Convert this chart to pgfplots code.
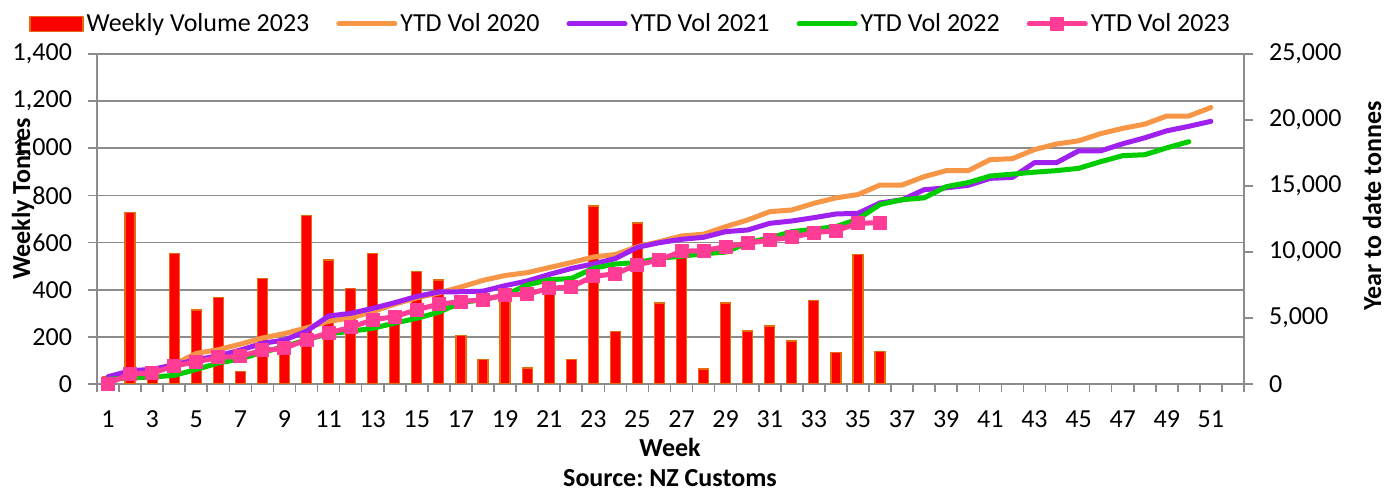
\documentclass[border=0pt]{standalone}
\usepackage{fontspec}
\setmainfont{Carlito}
\usepackage{pgfplots}
\pgfplotsset{compat=1.18}
\definecolor{barred}{RGB}{255,0,0}
\definecolor{barorange}{RGB}{228,108,10}
\definecolor{c2020}{RGB}{247,150,70}
\definecolor{c2021}{RGB}{160,32,240}
\definecolor{c2022}{RGB}{0,204,0}
\definecolor{c2023}{RGB}{255,60,150}
\definecolor{gridgray}{RGB}{140,140,140}
\newcommand{\chartfont}{\fontsize{13}{15.6}\selectfont}
\begin{document}
\frenchspacing
\begin{tikzpicture}[font=\chartfont]
\useasboundingbox (-48.5pt,-53pt) rectangle (644pt,192pt);
\begin{axis}[
  at={(0pt,0pt)}, anchor=south west, scale only axis,
  width=573.5pt, height=165pt,
  xmin=0.5, xmax=52.5, ymin=0, ymax=1400,
  ytick={0,200,...,1400},
  xtick={1,3,...,51},
  minor xtick={0.5,1.5,...,52.5},
  tick align=outside,
  major tick length=4.5pt, minor tick length=4pt,
  major x tick style={draw=none},
  minor x tick style={gridgray, line width=0.8pt},
  ytick style={gridgray, line width=0.8pt},
  ymajorgrids, major grid style={gridgray, line width=0.8pt},
  axis line style={gridgray, line width=0.8pt},
  axis x line*=bottom, axis y line*=left,
  tick label style={font=\chartfont, black},
  yticklabel style={xshift=-4.5pt},
  xticklabel style={yshift=-5.5pt},
  /pgf/number format/assume math mode=true,
  /pgf/number format/1000 sep={,},
  ybar, bar width=5pt,
]
\addplot[fill=barred, draw=barorange, line width=0.6pt] coordinates {
(1,30) (2,728) (3,60) (4,554) (5,314) (6,368) (7,52) (8,447) (9,150) (10,714)
(11,526) (12,405) (13,553) (14,280) (15,477) (16,441) (17,205) (18,105) (19,380) (20,68)
(21,420) (22,105) (23,755) (24,221) (25,683) (26,344) (27,590) (28,64) (29,344) (30,225)
(31,246) (32,182) (33,354) (34,134) (35,549) (36,139)
};
\end{axis}
\begin{axis}[
  at={(0pt,0pt)}, anchor=south west, scale only axis,
  width=573.5pt, height=165pt,
  xmin=0.5, xmax=52.5, ymin=0, ymax=25000,
  axis x line=none, axis y line*=right,
  ytick={0,5000,...,25000}, scaled y ticks=false,
  tick align=outside, major tick length=4.5pt,
  ytick style={gridgray, line width=0.8pt},
  axis line style={gridgray, line width=0.8pt},
  tick label style={font=\chartfont, black},
  yticklabel style={xshift=4.5pt},
  /pgf/number format/assume math mode=true,
  /pgf/number format/1000 sep={,},
  legend columns=5,
  legend cell align=left,
  legend style={at={(-0.0593,1.0909)}, anchor=west, draw=none, fill=none,
    inner sep=0pt, font=\chartfont,
    /tikz/every even column/.append style={column sep=12pt},
    nodes={inner sep=1.5pt}},
  legend image code/.code={\draw[#1, mark repeat=2, mark phase=2] plot coordinates {(0pt,0pt) (14pt,0pt) (28pt,0pt)};},
  every axis plot/.append style={line width=2.5pt, line join=round, line cap=round},
]
\addlegendimage{legend image code/.code={\draw[fill=barred,draw=barorange,line width=0.6pt] (0pt,-3.75pt) rectangle (26.5pt,3.75pt);}}
\addlegendentry{Weekly Volume 2023}
\addplot[c2020, mark=none] coordinates {
(1,490) (2,934) (3,1060) (4,1480) (5,2323) (6,2600) (7,3020) (8,3480) (9,3820) (10,4250)
(11,4750) (12,5000) (13,5480) (14,6050) (15,6530) (16,6900) (17,7350) (18,7850) (19,8220) (20,8434)
(21,8820) (22,9200) (23,9620) (24,9810) (25,10400) (26,10783) (27,11212) (28,11350) (29,11918) (30,12424)
(31,13055) (32,13182) (33,13687) (34,14100) (35,14350) (36,15075) (37,15075) (38,15707) (39,16161) (40,16161)
(41,17000) (42,17070) (43,17760) (44,18181) (45,18420) (46,18965) (47,19368) (48,19685) (49,20302) (50,20302)
(51,20945)
};
\addlegendentry{YTD Vol 2020}
\addplot[c2021, mark=none] coordinates {
(1,550) (2,1000) (3,1110) (4,1440) (5,1840) (6,2130) (7,2570) (8,3080) (9,3333) (10,4000)
(11,5150) (12,5350) (13,5730) (14,6160) (15,6640) (16,6970) (17,6990) (18,7030) (19,7450) (20,7800)
(21,8300) (22,8750) (23,9100) (24,9500) (25,10354) (26,10708) (27,10960) (28,11112) (29,11541) (30,11667)
(31,12172) (32,12349) (33,12600) (34,12879) (35,12929) (36,13720) (37,13950) (38,14720) (39,14860) (40,15050)
(41,15580) (42,15650) (43,16767) (44,16767) (45,17660) (46,17660) (47,18200) (48,18650) (49,19180) (50,19520)
(51,19900)
};
\addlegendentry{YTD Vol 2021}
\addplot[c2022, mark=none] coordinates {
(1,350) (2,450) (3,530) (4,650) (5,1100) (6,1590) (7,1900) (8,2400) (9,2830) (10,3360)
(11,3800) (12,4000) (13,4217) (14,4620) (15,4975) (16,5440) (17,6170) (18,6390) (19,6742) (20,7500)
(21,7900) (22,7990) (23,8763) (24,9091) (25,9200) (26,9520) (27,9680) (28,9870) (29,9990) (30,10700)
(31,11070) (32,11541) (33,11730) (34,11920) (35,12490) (36,13600) (37,13960) (38,14100) (39,14950) (40,15260)
(41,15757) (42,15900) (43,16047) (44,16162) (45,16338) (46,16843) (47,17297) (48,17370) (49,17890) (50,18357)
};
\addlegendentry{YTD Vol 2022}
\addplot[c2023, mark=square*, mark size=3.25pt, mark options={fill=c2023, draw=c2023, line width=0.5pt}] coordinates {
(1,30) (2,758) (3,830) (4,1364) (5,1680) (6,2010) (7,2100) (8,2550) (9,2700) (10,3360)
(11,3880) (12,4280) (13,4870) (14,5100) (15,5630) (16,6050) (17,6238) (18,6390) (19,6742) (20,6800)
(21,7247) (22,7350) (23,8160) (24,8345) (25,9040) (26,9394) (27,10060) (28,10100) (29,10404) (30,10657)
(31,10909) (32,11112) (33,11464) (34,11616) (35,12172) (36,12222)
};
\addlegendentry{YTD Vol 2023}
\end{axis}
\node[rotate=90, font=\chartfont\bfseries] at (-37pt,92.5pt) {Weekly Tonnes};
\node[rotate=90, font=\chartfont\bfseries] at (637.5pt,89pt) {Year to date tonnes};
\node[font=\chartfont\bfseries] at (286.5pt,-31.5pt) {Week};
\node[font=\chartfont\bfseries] at (286.5pt,-47pt) {Source: NZ Customs};
\end{tikzpicture}
\end{document}
